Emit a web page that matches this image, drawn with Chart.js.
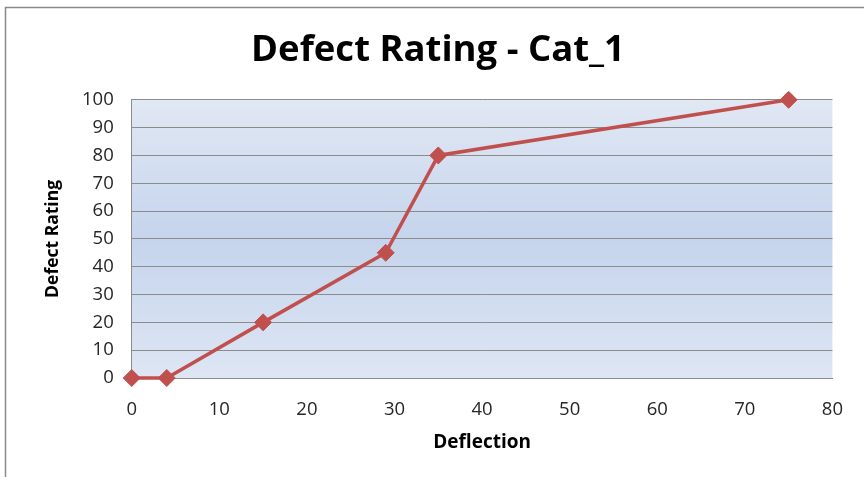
<!DOCTYPE html>
<html>
<head>
<meta charset="utf-8">
<script src="https://cdn.jsdelivr.net/npm/chart.js@4"></script>
<style>
	html, body { margin: 0; padding: 0; background: #fff; }
	#wrap { position: relative; width: 864px; height: 477px; }
</style>
</head>
<body>
<div id="wrap"><canvas id="defectChart"></canvas></div>
<script>
const deflection = [0, 4, 15, 29, 35, 75];
const defectRating = [0, 0, 20, 45, 80, 100];
const xTicks = [0, 10, 20, 30, 40, 50, 60, 70, 80];
const yTicks = [0, 10, 20, 30, 40, 50, 60, 70, 80, 90, 100];

const FONT = "'Open Sans', 'Liberation Sans', sans-serif";

// plot area gradient + outer frame
const backdrop = {
	id: 'backdrop',
	beforeDraw(chart) {
		const { ctx, chartArea: a } = chart;
		ctx.save();
		ctx.strokeStyle = '#8a8a8a';
		ctx.lineWidth = 1.5;
		ctx.beginPath();
		ctx.moveTo(5.5, 480);
		ctx.lineTo(5.5, 7.5);
		ctx.lineTo(870, 7.5);
		ctx.stroke();
		const g = ctx.createLinearGradient(0, a.top, 0, a.bottom);
		g.addColorStop(0, '#e1e8f4');
		g.addColorStop(0.5, '#c5d4ec');
		g.addColorStop(1, '#dee6f4');
		ctx.fillStyle = g;
		ctx.fillRect(a.left, a.top, a.right - a.left, a.bottom - a.top);
		ctx.restore();
	}
};

new Chart(document.getElementById('defectChart'), {
	type: 'line',
	data: {
		datasets: [{
			label: 'Defect Rating',
			data: deflection.map((x, i) => ({ x: x, y: defectRating[i] })),
			borderColor: '#c0504d',
			backgroundColor: '#c0504d',
			borderWidth: 3.5,
			pointStyle: 'rectRot',
			pointRadius: 8.5,
			pointBorderWidth: 1,
			tension: 0,
			clip: false
		}]
	},
	options: {
		responsive: true,
		maintainAspectRatio: false,
		animation: false,
		layout: { padding: { left: 43, right: 31, top: 25, bottom: 23 } },
		plugins: {
			legend: { display: false },
			tooltip: { enabled: false },
			title: {
				display: true,
				text: 'Defect Rating - Cat_1',
				color: '#000',
				font: { family: FONT, size: 36.5, weight: 'bold' },
				padding: { top: 4, bottom: 27 }
			}
		},
		scales: {
			x: {
				type: 'linear',
				min: 0,
				max: 80,
				afterBuildTicks: axis => { axis.ticks = xTicks.map(v => ({ value: v })); },
				grid: { display: false, drawTicks: false },
				border: { display: true, color: '#8c8c8c', width: 1 },
				ticks: { color: '#262626', font: { family: FONT, size: 18.5 }, padding: 21 },
				title: {
					display: true,
					text: 'Deflection',
					color: '#000',
					font: { family: FONT, size: 19, weight: 'bold' },
					padding: { top: -11, bottom: 0 }
				}
			},
			y: {
				min: 0,
				max: 100,
				afterBuildTicks: axis => { axis.ticks = yTicks.map(v => ({ value: v })); },
				grid: { color: '#8c8c8c', lineWidth: 1, drawTicks: false },
				border: { display: true, color: '#8c8c8c', width: 1 },
				ticks: { color: '#262626', font: { family: FONT, size: 18.5 }, padding: 18 },
				title: {
					display: true,
					text: 'Defect Rating',
					color: '#000',
					font: { family: FONT, size: 17.5, weight: 'bold' },
					padding: { top: 0, bottom: 0 }
				}
			}
		}
	},
	plugins: [backdrop]
});
</script>
</body>
</html>
